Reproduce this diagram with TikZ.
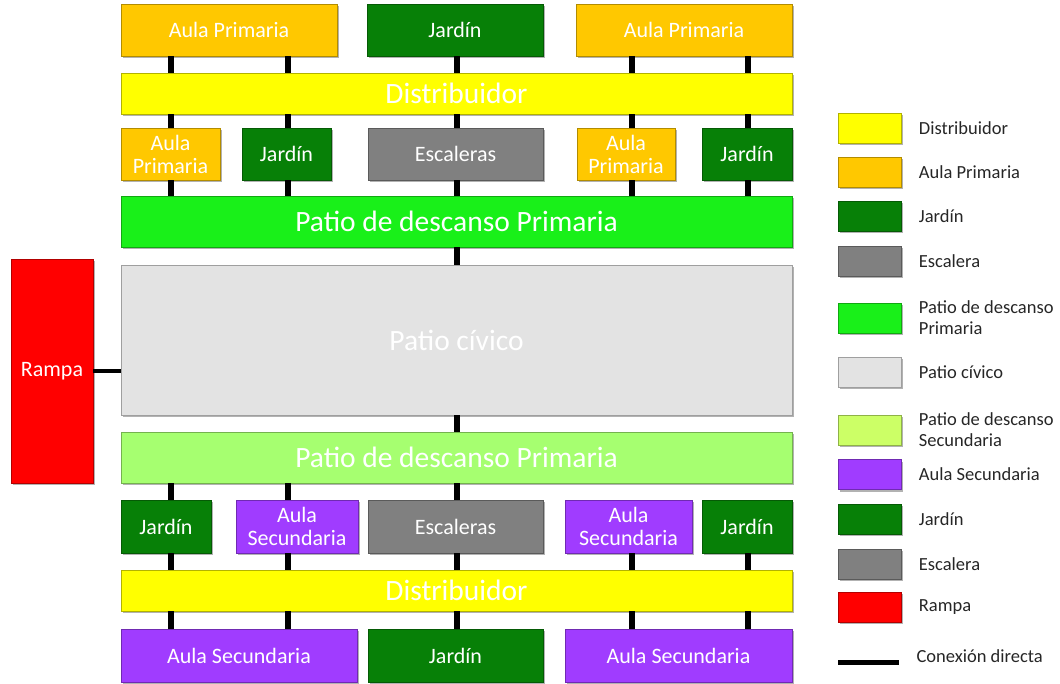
\documentclass[tikz,border=0pt]{standalone}
\usepackage{fontspec}
\setmainfont{Carlito}
\usetikzlibrary{positioning, shadows}
\definecolor{distrib}{HTML}{FFFF00}
\definecolor{aulap}{HTML}{FFC800}
\definecolor{jardin}{HTML}{078007}
\definecolor{escal}{HTML}{808080}
\definecolor{patiop}{HTML}{19F019}
\definecolor{patioc}{HTML}{E3E3E3}
\definecolor{patios}{HTML}{A6FF70}
\definecolor{patiosl}{HTML}{CCFF66}
\definecolor{aulas}{HTML}{A03CFF}
\definecolor{rampa}{HTML}{FF0000}

\begin{document}
\begin{tikzpicture}[x=1pt, y=-1pt,
        caja/.style={draw=#1!70!black, fill=#1, text=white, line width=0.8pt, inner sep=1pt, align=center,
            font=\fontsize{22}{23}\selectfont,
            drop shadow={shadow xshift=2pt, shadow yshift=-2pt, opacity=0.5, fill=black!60}},
        grande/.style={font=\fontsize{29.5}{32}\selectfont},
        conex/.style={line width=6pt, black},
        muestra/.style={caja=#1, minimum width=63pt, minimum height=30pt},
        leyenda/.style={right=14pt of #1, text=black!85, align=left, font=\fontsize{18.5}{21}\selectfont}]
    \useasboundingbox (0,0) rectangle (1060,684);
    % columnas de las conexiones
    \coordinate (c1) at (171,0);
    \coordinate (c2) at (288,0);
    \coordinate (c3) at (457,0);
    \coordinate (c4) at (632,0);
    \coordinate (c5) at (748,0);

    % primaria
    \node[caja=aulap, minimum width=216pt, minimum height=52pt] (ap1) at (229,30) {Aula Primaria};
    \node[caja=jardin, minimum width=176pt, minimum height=52pt] (jd1) at (455,30) {Jardín};
    \node[caja=aulap, minimum width=216pt, minimum height=52pt] (ap2) at (684,30) {Aula Primaria};
    \node[caja=distrib, grande, minimum width=671pt, minimum height=41pt] (dis1) at (456.5,93.5) {Distribuidor};
    \node[caja=aulap, minimum width=99pt, minimum height=52pt] (ap3) at (170.5,154) {Aula\\Primaria};
    \node[caja=jardin, minimum width=89pt, minimum height=52pt] (jd3) at (286.5,154) {Jardín};
    \node[caja=escal, minimum width=175pt, minimum height=52pt] (esc3) at (455.5,154) {Escaleras};
    \node[caja=aulap, minimum width=98pt, minimum height=52pt] (ap4) at (626,154) {Aula\\Primaria};
    \node[caja=jardin, minimum width=90pt, minimum height=52pt] (jd4) at (747,154) {Jardín};
    \node[caja=patiop, grande, minimum width=671pt, minimum height=51pt] (pp) at (456.5,221.5) {Patio de descanso Primaria};

    % centro
    \node[caja=patioc, grande, minimum width=671pt, minimum height=150pt] (pc) at (456.5,340) {Patio cívico};
    \node[caja=rampa, minimum width=82pt, minimum height=224pt] (ram) at (52,371) {Rampa};

    % secundaria
    \node[caja=patios, grande, minimum width=671pt, minimum height=51pt] (ps) at (456.5,457.5) {Patio de descanso Primaria};
    \node[caja=jardin, minimum width=90pt, minimum height=53pt] (jd7) at (166,526.5) {Jardín};
    \node[caja=aulas, minimum width=122pt, minimum height=53pt] (as7) at (297,526.5) {Aula\\Secundaria};
    \node[caja=escal, minimum width=175pt, minimum height=53pt] (esc7) at (455.5,526.5) {Escaleras};
    \node[caja=aulas, minimum width=127pt, minimum height=53pt] (as8) at (628.5,526.5) {Aula\\Secundaria};
    \node[caja=jardin, minimum width=90pt, minimum height=53pt] (jd8) at (747,526.5) {Jardín};
    \node[caja=distrib, grande, minimum width=671pt, minimum height=41pt] (dis2) at (456.5,590.5) {Distribuidor};
    \node[caja=aulas, minimum width=236pt, minimum height=53pt] (as9) at (239,655.5) {Aula Secundaria};
    \node[caja=jardin, minimum width=175pt, minimum height=53pt] (jd9) at (455.5,655.5) {Jardín};
    \node[caja=aulas, minimum width=227pt, minimum height=53pt] (as10) at (678.5,655.5) {Aula Secundaria};

    % conexiones
    \foreach \a/\b/\c in {ap1/dis1/c1, ap1/dis1/c2, jd1/dis1/c3, ap2/dis1/c4, ap2/dis1/c5,
            dis1/ap3/c1, dis1/jd3/c2, dis1/esc3/c3, dis1/ap4/c4, dis1/jd4/c5,
            ap3/pp/c1, jd3/pp/c2, esc3/pp/c3, ap4/pp/c4, jd4/pp/c5,
            pp/pc/c3, pc/ps/c3,
            ps/jd7/c1, ps/as7/c2, ps/esc7/c3,
            jd7/dis2/c1, as7/dis2/c2, esc7/dis2/c3, as8/dis2/c4, jd8/dis2/c5,
            dis2/as9/c1, dis2/as9/c2, dis2/jd9/c3, dis2/as10/c4, dis2/as10/c5}
        \draw[conex] (\a.south -| \c) -- (\b.north -| \c);
    \draw[conex, line width=4pt] (ram.east) -- (ram.east -| pc.west);

    % leyenda
    \node[muestra=distrib] (m1) at (869.5,128) {};
    \node[leyenda=m1] (t1) {Distribuidor};
    \node[muestra=aulap] (m2) at (869.5,172) {};
    \node[leyenda=m2] (t2) {Aula Primaria};
    \node[muestra=jardin] (m3) at (869.5,216.5) {};
    \node[leyenda=m3] (t3) {Jardín};
    \node[muestra=escal] (m4) at (869.5,261) {};
    \node[leyenda=m4] (t4) {Escalera};
    \node[muestra=patiop] (m5) at (869.5,318) {};
    \node[leyenda=m5] (t5) {Patio de descanso\\Primaria};
    \node[muestra=patioc] (m6) at (869.5,372) {};
    \node[leyenda=m6] (t6) {Patio cívico};
    \node[muestra=patiosl] (m7) at (869.5,430) {};
    \node[leyenda=m7] (t7) {Patio de descanso\\Secundaria};
    \node[muestra=aulas] (m8) at (869.5,474.5) {};
    \node[leyenda=m8] (t8) {Aula Secundaria};
    \node[muestra=jardin] (m9) at (869.5,519) {};
    \node[leyenda=m9] (t9) {Jardín};
    \node[muestra=escal] (m10) at (869.5,564) {};
    \node[leyenda=m10] (t10) {Escalera};
    \node[muestra=rampa] (m11) at (869.5,607) {};
    \node[leyenda=m11] (t11) {Rampa};
    \coordinate (l1) at (838,662);
    \coordinate (l2) at (899,662);
    \draw[conex, line width=5pt] (l1) -- (l2);
    \node[right=14pt of l2, yshift=6pt, text=black!85, font=\fontsize{18.5}{21}\selectfont] (t12) {Conexión directa};
\end{tikzpicture}
\end{document}
